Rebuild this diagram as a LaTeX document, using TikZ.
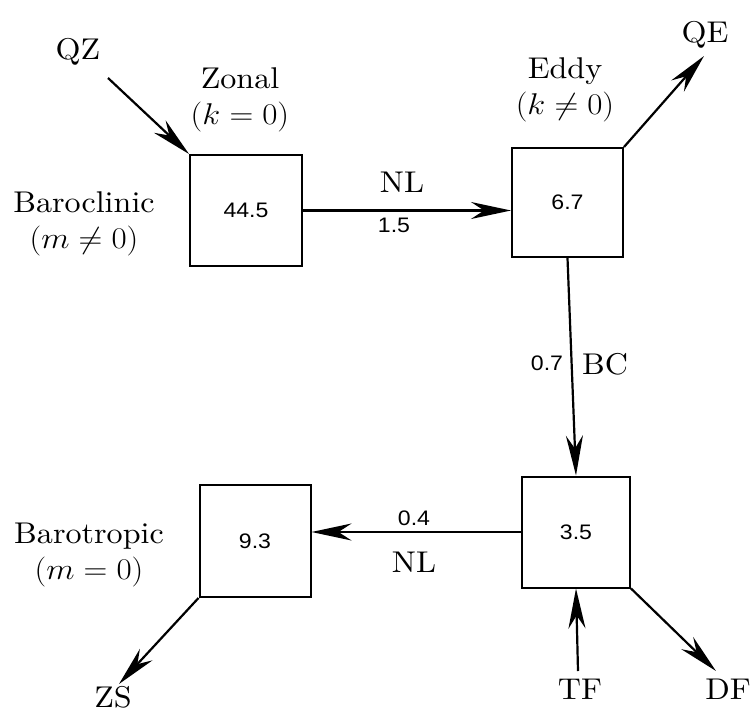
\RequirePackage{fix-cm}
\documentclass[tikz,border=0pt]{standalone}
\usepackage{fontspec}
\setmainfont{lmroman10-regular.otf}[FakeStretch=1.07,ItalicFont=lmroman10-italic.otf]
\newfontfamily\numfont{Liberation Sans}[FakeStretch=1.1]
\newcommand{\wmath}[1]{\scalebox{1.1}[1]{$#1$}}
\usetikzlibrary{arrows.meta}
\begin{document}
\begin{tikzpicture}[x=1pt,y=-1pt,
  box/.style={draw,line width=2pt,inner sep=0pt,font=\numfont\fontsize{21}{24}\selectfont},
  lbl/.style={font=\fontsize{30}{36}\selectfont,inner sep=0pt,align=center},
  num/.style={font=\numfont\fontsize{21}{24}\selectfont,inner sep=0pt},
  flow/.style={line width=2.2pt,-{Stealth[length=40pt,width=17pt,inset=13pt]}}]
\useasboundingbox (0,0) rectangle (750,712);
% boxes
\node[box,minimum width=112pt,minimum height=111pt] (z) at (246,210.5) {44.5};
\node[box,minimum width=111pt,minimum height=109pt] (e) at (567.5,202.5) {6.7};
\node[box,minimum width=108pt,minimum height=111pt] (et) at (576,532) {3.5};
\node[box,minimum width=111pt,minimum height=112pt] (zt) at (255,541) {9.3};
% labels
\node[lbl] (qz) at (78,52) {QZ};
\node[lbl] (zonal) at (240,100) {Zonal\\\wmath{(k=0)}};
\node[lbl] (bcl) at (84,224) {Baroclinic\\\wmath{(m\neq0)}};
\node[lbl] (eddy) at (565,90) {Eddy\\\wmath{(k\neq0)}};
\node[lbl] (qe) at (705,35) {QE};
\node[lbl] (nl1) at (402,182) {NL};
\node[num] (n15) at (394,225) {1.5};
\node[num] (n07) at (547,363) {0.7};
\node[lbl] (bc) at (605,364) {BC};
\node[num] (n04) at (414,518) {0.4};
\node[lbl] (nl2) at (414,562) {NL};
\node[lbl] (btp) at (89,555) {Barotropic\\\wmath{(m=0)}};
\node[lbl] (zs) at (113,697) {ZS};
\node[lbl] (tf) at (580,689) {TF};
\node[lbl] (df) at (728,689) {DF};
% free ends
\coordinate (qz0) at (108,78);
\coordinate (qe0) at (704,56);
\coordinate (zs0) at (119,684);
\coordinate (tf0) at (578,671);
\coordinate (df0) at (716,671);
% connectors
\draw[flow] (qz0) -- (z.north west);
\draw[flow] (z.east) -- (z.east -| e.west);
\draw[flow] (e.north east) -- (qe0);
\draw[flow] (e.south) -- (et.north);
\draw[flow] (et.west) -- (et.west -| zt.east);
\draw[flow] (zt.south west) -- (zs0);
\draw[flow] (tf0) -- (et.south);
\draw[flow] (et.south east) -- (df0);
\end{tikzpicture}
\end{document}
